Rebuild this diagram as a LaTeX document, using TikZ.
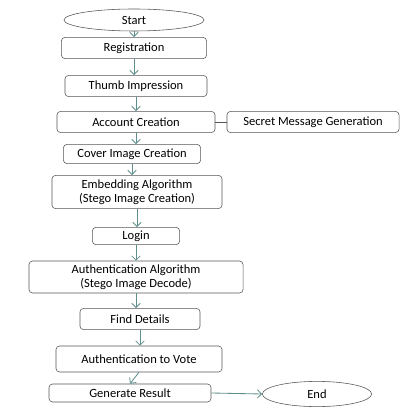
\documentclass[tikz,border=0pt]{standalone}
\usepackage{fontspec}
\setmainfont{Carlito}
\usetikzlibrary{arrows.meta,shapes.geometric,positioning}
\definecolor{flowline}{HTML}{5F8F8C}
\definecolor{boxline}{HTML}{555555}

\begin{document}
\begin{tikzpicture}[
    x=0.025cm, y=-0.025cm,
    stage/.style={draw=boxline, rounded corners=2.5pt, inner sep=1pt, align=center, font=\fontsize{8.9}{10.2}\selectfont, fill=white, minimum height=0.53cm},
    term/.style={draw=boxline, ellipse, inner sep=0pt, font=\fontsize{8.9}{10.2}\selectfont},
    arr/.style={-{Straight Barb[length=3pt,width=6pt]}, flowline, semithick}
]
\useasboundingbox (0,0) rectangle (410,418);

\node[term, minimum width=3.5cm, minimum height=0.55cm] (start) at (134,20) {Start};
\node[stage, minimum width=3.63cm] (reg) at (134,48) {Registration};
\node[stage, minimum width=3.55cm] (thumb) at (136,86) {Thumb Impression};
\node[stage, minimum width=3.95cm] (acc) at (136,122) {Account Creation};
\node[stage, minimum width=4.3cm] (secret) at (313,122) {Secret Message Generation};
\node[stage, minimum width=3.43cm, minimum height=0.48cm] (cover) at (132,154) {Cover Image Creation};
\node[stage, minimum width=4.25cm, minimum height=0.83cm] (embed) at (137,192) {Embedding Algorithm\\(Stego Image Creation)};
\node[stage, minimum width=2.18cm, minimum height=0.43cm] (login) at (136,236) {Login};
\node[stage, minimum width=5.35cm, minimum height=0.8cm] (auth) at (136,277) {Authentication Algorithm\\(Stego Image Decode)};
\node[stage, minimum width=3.0cm] (find) at (140,319) {Find Details};
\node[stage, minimum width=4.15cm, minimum height=0.65cm] (vote) at (139,359) {Authentication to Vote};
\node[stage, minimum width=4.05cm, minimum height=0.45cm] (result) at (130,393) {Generate Result};
\node[term, minimum width=2.73cm, minimum height=0.63cm] (end) at (317,394) {End};

% main flow
\draw[arr] (start.south) -- (start.south |- reg.north);
\draw[arr] (reg.south) -- (reg.south |- thumb.north);
\draw[arr] (thumb.south) -- (thumb.south |- acc.north);
\draw[arr] (acc.south) -- (acc.south |- cover.north);
\draw[arr] (cover.south) -- (cover.south |- embed.north);
\draw[arr] (embed.south) -- (embed.south |- login.north);
\draw[arr] (login.south) -- (login.south |- auth.north);
\draw[arr] (auth.south) -- (auth.south |- find.north);
\draw[arr] (find.south) -- (find.south |- vote.north);
\draw[arr] (vote.south) -- (result.north);
\draw[arr] (result.east) -- (end.west);

% side link
\draw[boxline] (acc.east) -- (secret.west);
\end{tikzpicture}
\end{document}
